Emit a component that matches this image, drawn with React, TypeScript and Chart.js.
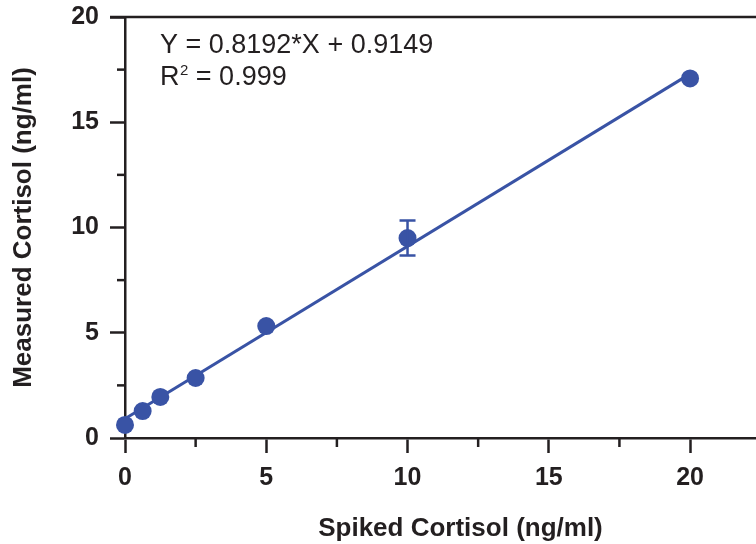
import React, { useEffect, useRef } from "react";
import { Chart, registerables } from "chart.js";

Chart.register(...registerables);

const spikedX = [0, 0.625, 1.25, 2.5, 5, 10, 20];
const measuredY = [0.62, 1.28, 1.95, 2.85, 5.32, 9.5, 17.08];
const measuredErr = [0, 0, 0, 0, 0, 0.83, 0];
const SLOPE = 0.8192;
const INTERCEPT = 0.9149;
const fitX = [0, 20];
const xTicks = [0, 5, 10, 15, 20];
const yTicks = [0, 5, 10, 15, 20];
const xMinorTicks = [2.5, 7.5, 12.5, 17.5];
const yMinorTicks = [2.5, 7.5, 12.5, 17.5];
const eqLine = "Y = 0.8192*X + 0.9149";
const r2Value = "0.999";

const BLUE = "#3953a5";
const INK = "#231f20";
const FONT = "'Liberation Sans', Arial, Helvetica, sans-serif";

function noPad(s: any) {
  s.paddingTop = 0;
  s.paddingBottom = 0;
  s.paddingLeft = 0;
  s.paddingRight = 0;
}

export default function App() {
  const ref = useRef<HTMLCanvasElement | null>(null);
  useEffect(() => {
    if (!ref.current) return;
    const extras = {
      id: "extras",
      afterDraw(chart: any) {
        const ctx = chart.ctx;
        const xs = chart.scales.x;
        const ys = chart.scales.y;
        const ca = chart.chartArea;
        ctx.save();
        ctx.strokeStyle = INK;
        ctx.lineWidth = 2.5;
        ctx.beginPath();
        ctx.moveTo(ca.left - 15, ca.top);
        ctx.lineTo(ca.right, ca.top);
        ctx.stroke();
        xMinorTicks.forEach((v) => {
          const px = xs.getPixelForValue(v);
          ctx.beginPath();
          ctx.moveTo(px, ca.bottom);
          ctx.lineTo(px, ca.bottom + 9);
          ctx.stroke();
        });
        yMinorTicks.forEach((v) => {
          const py = ys.getPixelForValue(v);
          ctx.beginPath();
          ctx.moveTo(ca.left, py);
          ctx.lineTo(ca.left - 8, py);
          ctx.stroke();
        });
        ctx.strokeStyle = BLUE;
        ctx.lineWidth = 2.5;
        spikedX.forEach((x, i) => {
          const e = measuredErr[i];
          if (!e) return;
          const px = xs.getPixelForValue(x);
          const top = ys.getPixelForValue(measuredY[i] + e);
          const bot = ys.getPixelForValue(measuredY[i] - e);
          ctx.beginPath();
          ctx.moveTo(px, top);
          ctx.lineTo(px, bot);
          ctx.moveTo(px - 8, top);
          ctx.lineTo(px + 8, top);
          ctx.moveTo(px - 8, bot);
          ctx.lineTo(px + 8, bot);
          ctx.stroke();
        });
        ctx.fillStyle = INK;
        ctx.textBaseline = "middle";
        ctx.textAlign = "left";
        ctx.font = `27px ${FONT}`;
        const tx = ca.left + 35;
        ctx.fillText(eqLine, tx, ca.top + 29);
        ctx.fillText("R", tx, ca.top + 61);
        const rw = ctx.measureText("R").width;
        ctx.font = `15px ${FONT}`;
        ctx.fillText("2", tx + rw + 0.5, ca.top + 54);
        const sw = ctx.measureText("2").width;
        ctx.font = `27px ${FONT}`;
        ctx.fillText(" = " + r2Value, tx + rw + 0.5 + sw, ca.top + 61);
        ctx.restore();
      },
    };
    const chart = new Chart(ref.current, {
      type: "scatter",
      data: {
        datasets: [
          {
            type: "line",
            label: "fit",
            data: fitX.map((x) => ({ x, y: SLOPE * x + INTERCEPT })),
            borderColor: BLUE,
            borderWidth: 3,
            pointRadius: 0,
            fill: false,
            order: 2,
            clip: false,
          } as any,
          {
            label: "measured",
            data: spikedX.map((x, i) => ({ x, y: measuredY[i] })),
            backgroundColor: BLUE,
            borderColor: BLUE,
            borderWidth: 0,
            pointRadius: 9,
            pointHoverRadius: 9,
            order: 1,
            clip: false,
          },
        ],
      },
      options: {
        animation: false,
        responsive: false,
        devicePixelRatio: 1,
        layout: { padding: { top: 17, left: 0, right: 0, bottom: 0 } },
        plugins: { legend: { display: false }, tooltip: { enabled: false } },
        scales: {
          x: {
            type: "linear",
            min: 0,
            max: 23.75,
            afterFit: (s: any) => {
              s.height = 106;
              noPad(s);
            },
            afterBuildTicks: (s: any) => {
              s.ticks = xTicks.map((v) => ({ value: v }));
            },
            grid: {
              drawOnChartArea: false,
              drawTicks: true,
              tickLength: 15,
              tickWidth: 2.5,
              tickColor: INK,
            },
            border: { display: true, color: INK, width: 2.5 },
            ticks: {
              padding: 10,
              color: INK,
              font: { family: FONT, size: 25, weight: "bold" },
            },
            title: {
              display: true,
              text: "Spiked Cortisol (ng/ml)",
              color: INK,
              font: { family: FONT, size: 26, weight: "bold" },
              padding: { top: 0, bottom: 0 },
            },
          },
          y: {
            type: "linear",
            min: 0,
            max: 20,
            afterFit: (s: any) => {
              s.width = 125;
              noPad(s);
            },
            afterBuildTicks: (s: any) => {
              s.ticks = yTicks.map((v) => ({ value: v }));
            },
            grid: {
              drawOnChartArea: false,
              drawTicks: true,
              tickLength: 15,
              tickWidth: 2.5,
              tickColor: INK,
            },
            border: { display: true, color: INK, width: 2.5 },
            ticks: {
              padding: 11,
              color: INK,
              font: { family: FONT, size: 25, weight: "bold" },
            },
            title: {
              display: true,
              text: "Measured Cortisol (ng/ml)",
              color: INK,
              font: { family: FONT, size: 26, weight: "bold" },
              padding: { top: 8, bottom: 8 },
            },
          },
        },
      },
      plugins: [extras],
    } as any);
    return () => chart.destroy();
  }, []);
  return (
    <div
      style={{
        position: "absolute",
        left: 0,
        top: 0,
        width: 756,
        height: 544,
        overflow: "hidden",
        background: "#fff",
      }}
    >
      <canvas ref={ref} width={805} height={544} style={{ display: "block" }} />
    </div>
  );
}
